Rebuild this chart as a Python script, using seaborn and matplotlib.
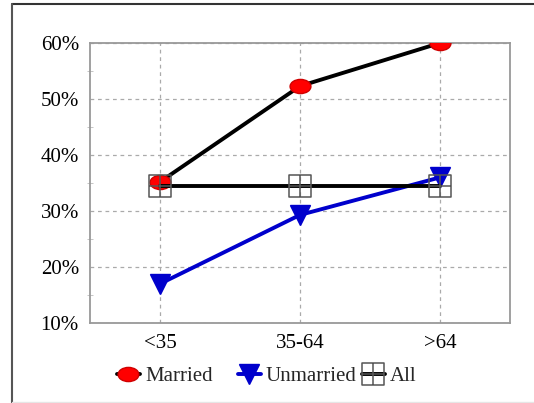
import numpy as np
import pandas as pd
import seaborn as sns
import matplotlib.pyplot as plt
from matplotlib.path import Path
from matplotlib.lines import Line2D
from matplotlib.ticker import MultipleLocator, PercentFormatter

# data
age_groups = ["<35", "35-64", ">64"]
married = [35.2, 52.3, 60.0]
unmarried = [17.0, 29.3, 36.0]
all_people = [34.5, 34.5, 34.5]

df = pd.DataFrame({
    "age": age_groups * 3,
    "pct": married + unmarried + all_people,
    "group": ["Married"] * 3 + ["Unmarried"] * 3 + ["All"] * 3,
})

sns.set_style("white")
plt.rcParams["font.family"] = ["Liberation Serif", "DejaVu Serif"]

# custom markers: a flat ellipse and a square with a cross in it
circ = Path.unit_circle()
ellipse = Path(circ.vertices * [1.0, 0.68], circ.codes)
sq_plus = Path(
    [(-1, -1), (1, -1), (1, 1), (-1, 1), (-1, -1),
     (0, -1), (0, 1), (-1, 0), (1, 0)],
    [Path.MOVETO, Path.LINETO, Path.LINETO, Path.LINETO, Path.CLOSEPOLY,
     Path.MOVETO, Path.LINETO, Path.MOVETO, Path.LINETO])

fig = plt.figure(figsize=(5.34, 4.03), dpi=100)
ax = fig.add_axes([90 / 534, 1 - 323 / 403, 420 / 534, 280 / 403])

styles = {
    "Married": dict(color="black", marker=ellipse, markersize=15,
                    markerfacecolor="#ff0000", markeredgecolor="#d00000",
                    markeredgewidth=1),
    "Unmarried": dict(color="#0000cc", marker="v", markersize=14,
                      markerfacecolor="#0000cc", markeredgecolor="#0000cc",
                      markeredgewidth=1),
    "All": dict(color="black", marker=sq_plus, markersize=16,
                markerfacecolor="none", markeredgecolor="#555555",
                markeredgewidth=1.1),
}

for g in ["Married", "Unmarried", "All"]:
    sub = df[df["group"] == g]
    sns.lineplot(data=sub, x="age", y="pct", ax=ax, label=g,
                 linewidth=2.8, zorder=3, **styles[g])

ax.set_xlim(-0.5, 2.5)
ax.set_ylim(10, 60)
ax.yaxis.set_major_locator(MultipleLocator(10))
ax.yaxis.set_minor_locator(MultipleLocator(5))
ax.yaxis.set_major_formatter(PercentFormatter(decimals=0))
ax.set_xlabel("")
ax.set_ylabel("")

ax.grid(True, which="major", linestyle=(0, (3, 3)), color="#aaaaaa", linewidth=0.9)
for s in ax.spines.values():
    s.set_color("#999999")
    s.set_linewidth(1.3)
ax.tick_params(axis="both", which="major", labelsize=15, length=0, colors="black")
ax.tick_params(axis="y", which="major", pad=8)
ax.tick_params(axis="x", which="major", pad=8)
ax.tick_params(axis="y", which="minor", length=4, direction="inout", color="#bbbbbb", left=True)

# legend: first two entries together, "All" sits right after "Unmarried"
handles, labels = ax.get_legend_handles_labels()
ax.get_legend().remove()
leg_kw = dict(frameon=False, fontsize=15, handlelength=1.1, handletextpad=0.25,
              borderpad=0, borderaxespad=0, bbox_transform=fig.transFigure,
              loc="center left")
leg1 = fig.legend(handles[:2], labels[:2], ncol=2, columnspacing=1.2,
                  bbox_to_anchor=(117 / 534, 1 - 376 / 403), **leg_kw)
leg2 = fig.legend(handles[2:], labels[2:], ncol=1,
                  bbox_to_anchor=(362 / 534, 1 - 376 / 403), **leg_kw)

# outer frame (top and left edge)
fig.add_artist(Line2D([12 / 534, 1], [1 - 4 / 403, 1 - 4 / 403],
                      transform=fig.transFigure, color="#333333", linewidth=1.5))
fig.add_artist(Line2D([12 / 534, 12 / 534], [1 - 4 / 403, 0],
                      transform=fig.transFigure, color="#555555", linewidth=1.5))
fig.add_artist(Line2D([12 / 534, 1], [0.003, 0.003],
                      transform=fig.transFigure, color="#e6e6e6", linewidth=1))

fig.savefig("out.png", dpi=100)
